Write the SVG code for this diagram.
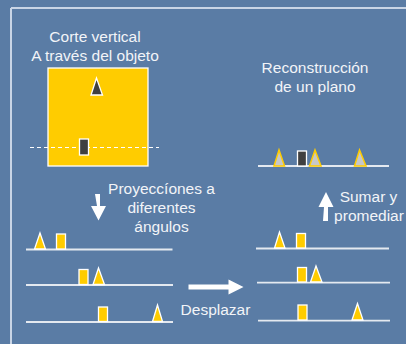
<svg xmlns="http://www.w3.org/2000/svg" width="406" height="344" viewBox="0 0 406 344">
<style>
.t{font-family:"Liberation Sans",Arial,sans-serif;font-size:15.5px;fill:#f2f4f8;text-anchor:middle}
.base{stroke:#e4e9f0;stroke-width:1.8;fill:none}
.ytri{fill:#ffcc00;stroke:#ffffff;stroke-width:1.3;stroke-linejoin:miter}
.yrect{fill:#ffcc00;stroke:#ffffff;stroke-width:1.3}
.gtri{fill:#c8c8c8;stroke:#ffcc00;stroke-width:1.5}
.drect{fill:#404040;stroke:#ffffff;stroke-width:1.3}
.arrow{fill:#ffffff}
</style>
<rect x="0" y="0" width="406" height="344" fill="#5a7ca5"/>
<g id="frame" fill="none" stroke="#c9d5e6" stroke-width="2">
<line x1="11" y1="8" x2="406" y2="8"/>
<line x1="11" y1="8" x2="11" y2="344"/>
</g>
<g id="slice">
<text class="t" x="95" y="42">Corte vertical</text>
<text class="t" x="95" y="61">A través del objeto</text>
<rect x="48" y="68" width="100" height="98" fill="#ffcc00" stroke="#ffffff" stroke-width="1.3"/>
<polygon class="drect" points="96.5,78 91,95 102.5,95"/>
<line x1="30" y1="147.5" x2="159" y2="147.5" stroke="#ffffff" stroke-width="1" stroke-dasharray="4,3"/>
<rect class="drect" x="79.5" y="139" width="9" height="16"/>
</g>
<g id="recon">
<text class="t" x="315" y="73">Reconstrucción</text>
<text class="t" x="315" y="92">de un plano</text>
<line class="base" x1="258" y1="166" x2="389" y2="166" stroke="#d0d6de" stroke-width="2"/>
<polygon class="gtri" points="279,150 274,166 284.5,166"/>
<rect class="drect" x="297.5" y="151" width="9" height="15"/>
<polygon class="gtri" points="315,150 309.5,166 321,166"/>
<polygon class="gtri" points="359.5,150 354.5,166 366,166"/>
</g>
<g id="proj-label">
<text class="t" x="161.5" y="194">Proyeccíones a</text>
<text class="t" x="161.5" y="213">diferentes</text>
<text class="t" x="161.5" y="232">ángulos</text>
</g>
<g id="proj-left">
<line class="base" x1="26" y1="249.5" x2="172.5" y2="249.5"/>
<polygon class="ytri" points="40,233 34.5,249 45.5,249"/>
<rect class="yrect" x="56.5" y="234" width="9" height="15"/>
<line class="base" x1="26" y1="285" x2="173" y2="285"/>
<rect class="yrect" x="79" y="269.5" width="9" height="15"/>
<polygon class="ytri" points="98.5,268 93,284.5 104.5,284.5"/>
<line class="base" x1="26" y1="322" x2="173" y2="322"/>
<rect class="yrect" x="98.5" y="307" width="9" height="14.5"/>
<polygon class="ytri" points="157.5,305 152.5,321.5 162.5,321.5"/>
</g>
<g id="sum-label">
<text class="t" x="368.5" y="202">Sumar y</text>
<text class="t" x="369" y="221">promediar</text>
</g>
<g id="proj-right">
<line class="base" x1="256" y1="248.5" x2="389" y2="248.5"/>
<polygon class="ytri" points="279.5,232 274.5,248 285,248"/>
<rect class="yrect" x="296.5" y="233.5" width="9" height="14.5"/>
<line class="base" x1="257" y1="282.7" x2="390" y2="282.7"/>
<rect class="yrect" x="297.5" y="267.5" width="9" height="14.5"/>
<polygon class="ytri" points="316,266 310.5,282 322,282"/>
<line class="base" x1="258" y1="320.7" x2="390" y2="320.7"/>
<rect class="yrect" x="298" y="305" width="9" height="15"/>
<polygon class="ytri" points="357.5,303.5 352,320 363,320"/>
</g>
<g id="shift-label">
<text class="t" x="215.5" y="315">Desplazar</text>
</g>
<g id="connectors">
<path class="arrow" d="M95,194 h5 v12 h6 l-7.5,14.5 l-7.5,-14.5 h6 z"/>
<path class="arrow" d="M323,221 h5 v-14 h5.5 l-7.5,-15 l-7.5,15 h5.5 z"/>
<path class="arrow" d="M188.5,284.5 h40 v-5 l15,7.5 l-15,7.5 v-5 h-40 z"/>
</g>
</svg>
